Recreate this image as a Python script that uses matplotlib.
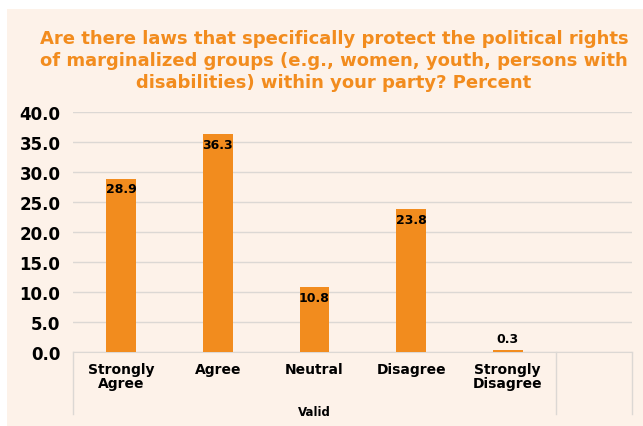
import matplotlib
matplotlib.use("Agg")
import matplotlib.pyplot as plt
from matplotlib.patches import Rectangle

# data
categories = ["Strongly\nAgree", "Agree", "Neutral", "Disagree", "Strongly\nDisagree"]
percent = [28.9, 36.3, 10.8, 23.8, 0.3]
yticks = [0, 5, 10, 15, 20, 25, 30, 35, 40]
group_label = "Valid"
title = ("Are there laws that specifically protect the political rights\n"
         "of marginalized groups (e.g., women, youth, persons with\n"
         "disabilities) within your party? Percent")

orange = "#F28C1E"
panel = "#FDF2E9"
grid = "#DCD8D4"

W, H = 643, 427
fig = plt.figure(figsize=(W / 100, H / 100), dpi=100)
fig.patch.set_facecolor("white")

# peach panel behind everything
fig.patches.append(Rectangle((7 / W, 0), 1, (H - 10) / H, transform=fig.transFigure,
                             facecolor=panel, edgecolor="none", zorder=-5))

fig.text(334 / W, 1 - 61 / H, title, ha="center", va="center", color=orange,
         fontsize=13, fontweight="bold", family="DejaVu Sans", linespacing=1.32)

ax = fig.add_axes([73 / W, 1 - 353 / H, (632 - 73) / W, (353 - 113) / H])
ax.set_facecolor("none")
x = list(range(len(categories)))
bars = ax.bar(x, percent, width=0.31, color=orange, zorder=3)
ax.set_ylim(0, 40)
ax.set_xlim(-0.5, 5.287)
ax.set_yticks(yticks)
ax.set_yticklabels([f"{v:.1f}" for v in yticks], fontsize=12, fontweight="bold")
ax.tick_params(axis="y", length=0, pad=9)
ax.tick_params(axis="x", length=0, pad=7)
ax.set_xticks(x)
ax.set_xticklabels(categories, fontsize=10, fontweight="bold", linespacing=1.0)
ax.yaxis.grid(True, color=grid, linewidth=1, zorder=0)
for s in ["top", "right", "left"]:
    ax.spines[s].set_visible(False)
ax.spines["bottom"].set_color(grid)

for b, v in zip(bars, percent):
    if v > 5:
        ax.text(b.get_x() + b.get_width() / 2, v - 0.6, f"{v:.1f}", ha="center", va="top",
                fontsize=9, fontweight="bold", zorder=4)
    else:
        ax.text(b.get_x() + b.get_width() / 2, v + 0.9, f"{v:.1f}", ha="center", va="bottom",
                fontsize=9, fontweight="bold", zorder=4)

# multi-level category separators
sep_depth = -(415 - 353) / (353 - 113)
for xv in [-0.5, 4.5, 5.287]:
    ax.plot([xv, xv], [0, sep_depth], transform=ax.get_xaxis_transform(),
            color=grid, linewidth=1, clip_on=False)
ax.text(2.0, -(413 - 353) / (353 - 113), group_label, transform=ax.get_xaxis_transform(),
        ha="center", va="center", fontsize=8.5, fontweight="bold")

fig.savefig("out.png", dpi=100)
